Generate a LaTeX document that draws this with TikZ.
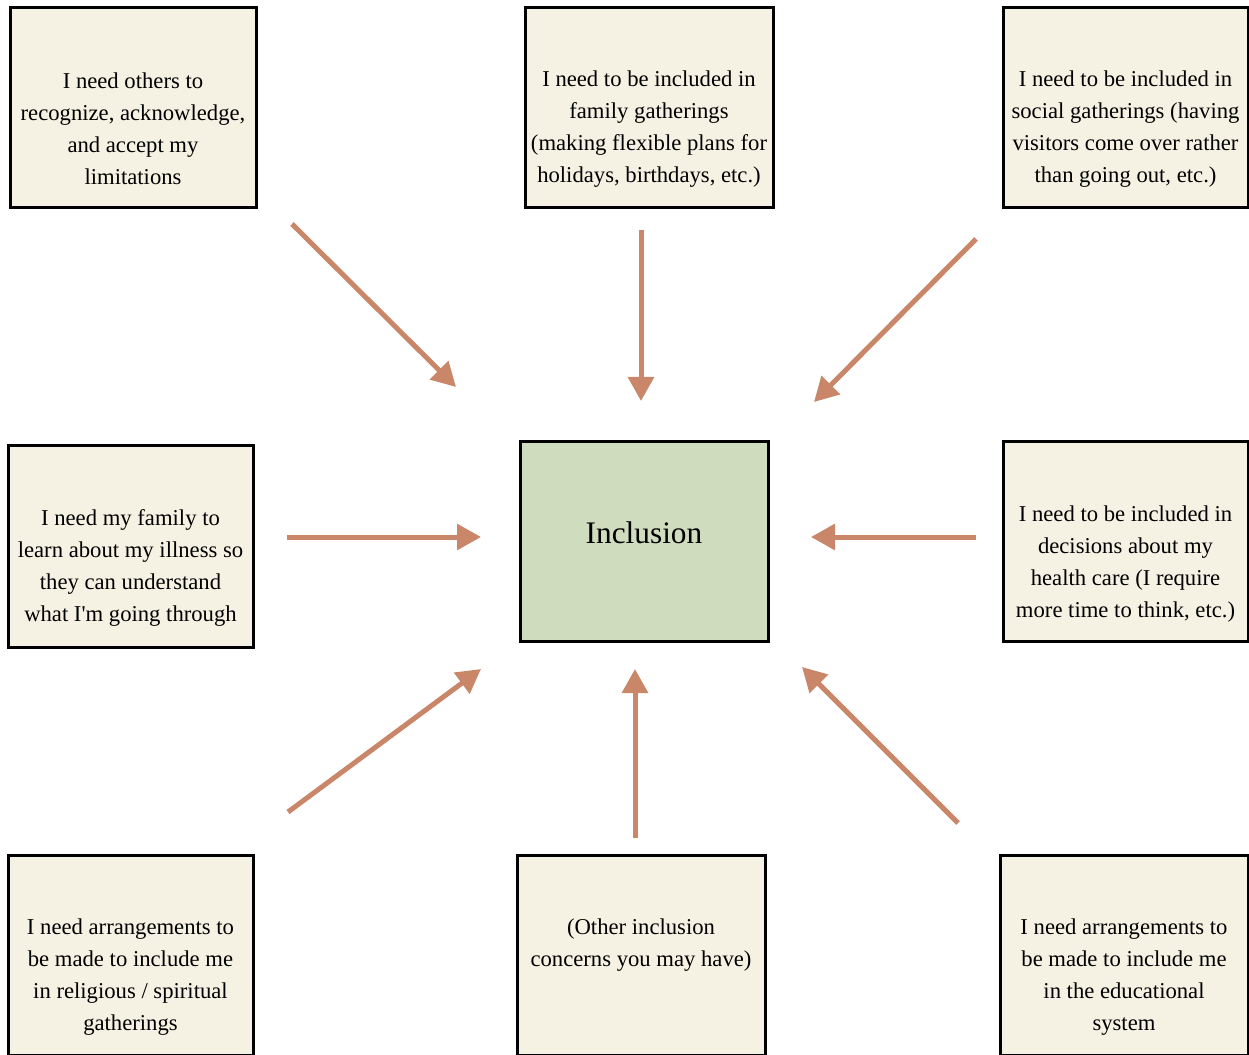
\documentclass[tikz,border=0pt]{standalone}
\usepackage{fontspec}
\setmainfont{Liberation Serif}
\usetikzlibrary{arrows.meta}
\definecolor{cream}{RGB}{245,242,228}
\definecolor{leaf}{RGB}{207,221,190}
\definecolor{arrowc}{RGB}{201,134,104}
\tikzset{
  box/.style={draw=black, line width=2.25pt, fill=cream, minimum width=184pt, minimum height=150pt, inner sep=0pt},
  hub/.style={box, fill=leaf},
  txt/.style={align=center, font=\fontsize{17}{24}\selectfont, inner sep=0pt},
  arr/.style={draw=arrowc, line width=3.75pt, -{Triangle[length=18pt,width=19pt]}}
}
\begin{document}
\begin{tikzpicture}[x=0.75pt,y=-0.75pt]
\useasboundingbox (0,0) rectangle (1249,1055);
% boxes
\node[box, minimum width=184.5pt] (tl) at (133,107.5) {};
\node[box, minimum width=186pt] (tc) at (649,107.5) {};
\node[box, minimum width=183.75pt] (tr) at (1125.5,107.5) {};
\node[box, minimum width=183.75pt, minimum height=151.5pt] (ml) at (130.5,546) {};
\node[hub, minimum width=186pt] (c) at (644,541) {};
\node[box, minimum width=183.75pt] (mr) at (1125.5,541) {};
\node[box, minimum width=183.75pt] (bl) at (130.5,955) {};
\node[box, minimum width=186pt] (bc) at (641,955) {};
\node[box, minimum width=186pt] (br) at (1124,955) {};
% texts
\node[txt] (tlt) at (133,129) {I need others to\\recognize, acknowledge,\\and accept my\\limitations};
\node[txt] (tct) at (649,129) {I need to be included in\\family gatherings\\(making flexible plans for\\holidays, birthdays, etc.)};
\node[txt] (trt) at (1125.5,129) {I need to be included in\\social gatherings (having\\visitors come over rather\\than going out, etc.)};
\node[txt] (mlt) at (130.5,568) {I need my family to\\learn about my illness so\\they can understand\\what I\textquotesingle m going through};
\node[txt, font=\fontsize{23.5}{28}\selectfont] (ct) at (644,533) {Inclusion};
\node[txt] (mrt) at (1125.5,564) {I need to be included in\\decisions about my\\health care (I require\\more time to think, etc.)};
\node[txt] (blt) at (130.5,977) {I need arrangements to\\be made to include me\\in religious / spiritual\\gatherings};
\node[txt] (bct) at (641,945) {(Other inclusion\\concerns you may have)};
\node[txt] (brt) at (1124,977) {I need arrangements to\\be made to include me\\in the educational\\system};
% arrow end points
\coordinate (a1s) at (292,224); \coordinate (a1e) at (456,387);
\coordinate (a2s) at (641,230); \coordinate (a2e) at (641,401);
\coordinate (a3s) at (976,239); \coordinate (a3e) at (814,402);
\coordinate (a4s) at (287,537); \coordinate (a4e) at (481,537);
\coordinate (a5s) at (976,537); \coordinate (a5e) at (811,537);
\coordinate (a6s) at (288,812); \coordinate (a6e) at (481,669);
\coordinate (a7s) at (635,838); \coordinate (a7e) at (635,669);
\coordinate (a8s) at (958,823); \coordinate (a8e) at (802,667);
\foreach \i in {1,...,8} {\draw[arr] (a\i s) -- (a\i e);}
\end{tikzpicture}
\end{document}
